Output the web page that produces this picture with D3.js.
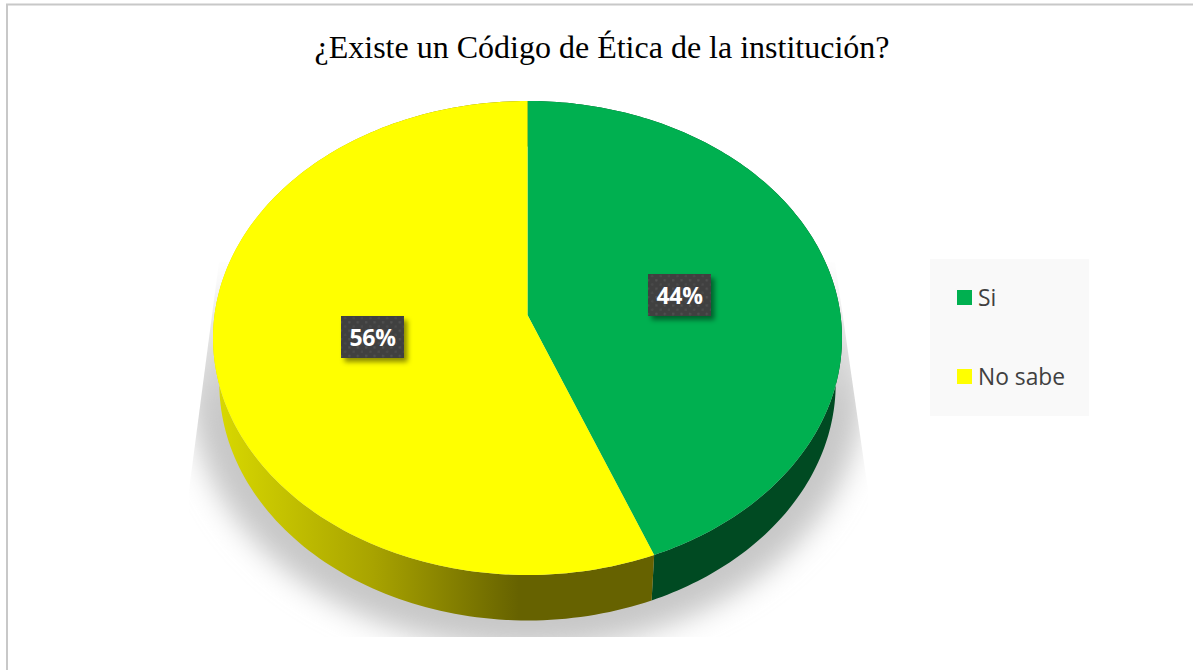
<!DOCTYPE html>
<html lang="es">
<head>
<meta charset="utf-8">
<title>Código de Ética</title>
<script src="https://cdn.jsdelivr.net/npm/d3@7/dist/d3.min.js"></script>
<style>
  html, body { margin: 0; padding: 0; background: #fff; }
  svg { display: block; }
</style>
</head>
<body>
<svg id="chart" width="1193" height="670"></svg>
<script>
const chartTitle = "¿Existe un Código de Ética de la institución?";
const categories = ["Si", "No sabe"];
const shares = [44, 56];
const topColors = ["#00b050", "#ffff00"];
const sideColors = ["#004a22", "url(#wallYellow)"];
const labelAnchors = [[679.5, 295], [372.5, 337]];
const legendRows = [297.5, 376.5];

const svg = d3.select("#chart");
const defs = svg.append("defs");

// Tilted disc: a unit circle seen through a projective map, so the centre
// of the pie sits above the middle of the visible ellipse.
const cx = 527.5, k = 313, persp = -0.097, ya = 204.2, yb = 315;
const depth = 45.5, wallScale = 0.98;

function topRim(angle) {
  const u = Math.sin(angle), v = -Math.cos(angle), w = 1 + persp * v;
  return [cx + k * u / w, (ya * v + yb) / w];
}
function bottomRim(angle) {
  const [x, y] = topRim(angle);
  return [cx + (x - cx) * wallScale, y + depth];
}
const angleSamples = (a0, a1, n = 160) =>
  d3.range(n + 1).map(i => a0 + (a1 - a0) * i / n);
const lineGen = d3.line().curve(d3.curveLinearClosed);

const arcs = d3.pie().sort(null).value(d => d)(shares);

// Soft floor shadow, cut off by the straight edges of its plot area and
// fading out towards the top.
const blur = defs.append("filter").attr("id", "floorBlur")
  .attr("x", "-20%").attr("y", "-20%").attr("width", "140%").attr("height", "140%");
blur.append("feGaussianBlur").attr("stdDeviation", 14);
const shadowFade = defs.append("linearGradient").attr("id", "shadowFade")
  .attr("gradientUnits", "userSpaceOnUse")
  .attr("x1", 0).attr("x2", 0).attr("y1", 262).attr("y2", 410);
[[0, "#ffffff"], [0.35, "#e4e4e4"], [1, "#c8c8c8"]].forEach(([o, c]) =>
  shadowFade.append("stop").attr("offset", o).attr("stop-color", c));
defs.append("clipPath").attr("id", "shadowClip").append("path")
  .attr("d", lineGen([[219, 262], [189, 490], [189, 637], [868, 637], [868, 490], [835, 262]]));
svg.append("g").attr("clip-path", "url(#shadowClip)")
  .append("ellipse").attr("cx", 527).attr("cy", 387).attr("rx", 337).attr("ry", 262)
  .attr("fill", "url(#shadowFade)").attr("filter", "url(#floorBlur)");

// Horizontal shading along the yellow wall.
const wallGrad = defs.append("linearGradient").attr("id", "wallYellow")
  .attr("gradientUnits", "userSpaceOnUse")
  .attr("x1", 219).attr("x2", 660).attr("y1", 0).attr("y2", 0);
[[0, "#d8d800"], [0.35, "#a8a300"], [0.68, "#666200"], [1, "#666200"]].forEach(([o, c]) =>
  wallGrad.append("stop").attr("offset", o).attr("stop-color", c));

// Side walls, from the bottom of the disc outwards.
svg.append("g").selectAll("path").data(arcs).join("path")
  .attr("d", d => {
    const s = angleSamples(d.startAngle, d.endAngle);
    return lineGen(s.map(topRim).concat(s.slice().reverse().map(bottomRim)));
  })
  .attr("fill", (d, i) => sideColors[i]);

// Top face.
svg.append("g").selectAll("path").data(arcs).join("path")
  .attr("d", d => lineGen([[cx, yb]].concat(angleSamples(d.startAngle, d.endAngle).map(topRim))))
  .attr("fill", (d, i) => topColors[i]);

// Frame: only the top and left edges are visible.
svg.append("path").attr("d", "M7 670V4.5H1193")
  .attr("fill", "none").attr("stroke", "#c8c8c8").attr("stroke-width", 2);

svg.append("text").attr("x", 602).attr("y", 58).attr("text-anchor", "middle")
  .attr("font-family", "'Liberation Serif', serif").attr("font-size", 32)
  .attr("fill", "#000").text(chartTitle);

// Data labels: dark dotted plates with a small drop shadow.
const dots = defs.append("pattern").attr("id", "plateDots")
  .attr("patternUnits", "userSpaceOnUse").attr("width", 8.4).attr("height", 8.4);
dots.append("rect").attr("width", 8.4).attr("height", 8.4).attr("fill", "#404040");
dots.append("rect").attr("x", 1).attr("y", 1).attr("width", 2.2).attr("height", 2.2).attr("fill", "#515151");
dots.append("rect").attr("x", 5.2).attr("y", 5.2).attr("width", 2.2).attr("height", 2.2).attr("fill", "#4b4b4b");
const plateShadow = defs.append("filter").attr("id", "plateShadow")
  .attr("x", "-20%").attr("y", "-30%").attr("width", "150%").attr("height", "170%");
plateShadow.append("feDropShadow").attr("dx", 3.5).attr("dy", 4).attr("stdDeviation", 2.6)
  .attr("flood-color", "#000").attr("flood-opacity", 0.45);

const plates = svg.append("g").selectAll("g").data(arcs).join("g")
  .attr("transform", (d, i) => `translate(${labelAnchors[i]})`);
plates.append("rect").attr("x", -31.5).attr("y", -21).attr("width", 63).attr("height", 42)
  .attr("fill", "url(#plateDots)").attr("filter", "url(#plateShadow)");
plates.append("text").attr("text-anchor", "middle").attr("y", 9)
  .attr("font-family", "'Open Sans', sans-serif").attr("font-weight", 700).attr("font-size", 23)
  .attr("letter-spacing", -0.3).attr("fill", "#fff").text(d => d.data + "%");

// Legend.
svg.append("rect").attr("x", 930).attr("y", 259).attr("width", 159).attr("height", 157).attr("fill", "#f9f9f9");
const legend = svg.append("g").selectAll("g").data(categories).join("g")
  .attr("transform", (d, i) => `translate(957,${legendRows[i]})`);
legend.append("rect").attr("y", -7.5).attr("width", 15).attr("height", 15)
  .attr("fill", (d, i) => topColors[i]);
legend.append("text").attr("x", 21).attr("y", 8)
  .attr("font-family", "'Open Sans', sans-serif").attr("font-size", 22.8)
  .attr("fill", "#404040").text(d => d);
</script>
</body>
</html>
